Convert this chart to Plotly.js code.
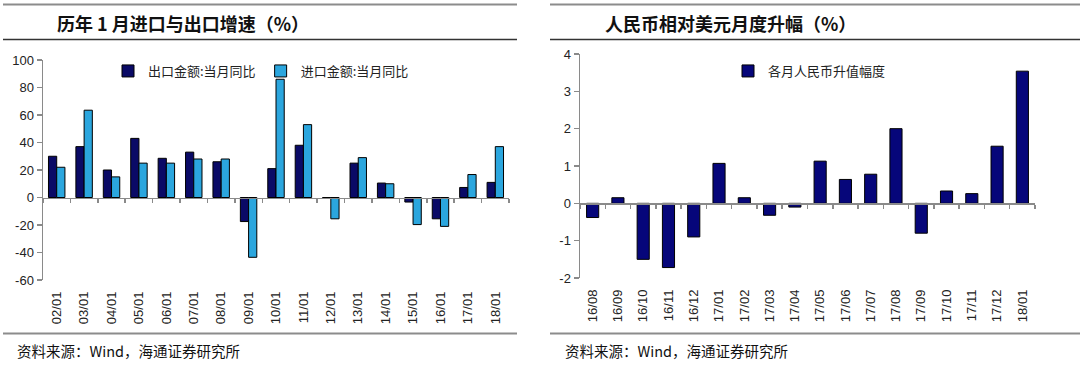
<!DOCTYPE html>
<html><head><meta charset="utf-8">
<script src="https://cdn.plot.ly/plotly-3.0.1.min.js"></script>
<style>html,body{margin:0;padding:0;background:#fff}#chart{width:1080px;height:369px}</style>
</head><body><div id="chart"></div>
<script>
// ---- data ----
const years = ['02/01','03/01','04/01','05/01','06/01','07/01','08/01','09/01','10/01','11/01','12/01','13/01','14/01','15/01','16/01','17/01','18/01'];
const exportYoY = [30, 37, 20, 43, 28.5, 33, 26, -17.5, 21, 38, -0.5, 25, 10.5, -3.3, -15.5, 7.3, 11];
const importYoY = [22, 63.5, 15, 25, 25, 28, 28, -43.5, 86, 53, -15.5, 29, 10, -19.7, -21, 16.7, 37];
const months = ['16/08','16/09','16/10','16/11','16/12','17/01','17/02','17/03','17/04','17/05','17/06','17/07','17/08','17/09','17/10','17/11','17/12','18/01'];
const rmbAppreciation = [-0.38, 0.15, -1.5, -1.72, -0.9, 1.07, 0.15, -0.32, -0.1, 1.13, 0.64, 0.78, 2.0, -0.8, 0.33, 0.26, 1.53, 3.54];
const leftTickVals = [-60, -40, -20, 0, 20, 40, 60, 80, 100];
const leftTickText = ['-60', '-40', '-20', '0', '20', '40', '60', '80', '100'];
const rightTickVals = [-2, -1, 0, 1, 2, 3, 4];
const rightTickText = ['-2', '-1', '0', '1', '2', '3', '4'];
const leftTitle = '历年 1 月进口与出口增速（%）';
const rightTitle = '人民币相对美元月度升幅（%）';
const sourceText = '资料来源：Wind，海通证券研究所';
const exportName = '出口金额:当月同比';
const importName = '进口金额:当月同比';
const rmbName = '各月人民币升值幅度';

// ---- geometry helpers (pixels -> paper) ----
const W = 1080, H = 369;
const px = x => x / W;
const py = y => 1 - y / H;

const leftRange = [-60, 100];
const rightRange = [-2, 4];
const leftYDom = [py(280), py(60)];
const rightYDom = [py(278), py(54)];
const zeroPos = (dom, r) => dom[0] + (0 - r[0]) / (r[1] - r[0]) * (dom[1] - dom[0]);

const CJK = '"Noto Sans CJK SC", "Noto Sans", sans-serif';
const LAT = '"Liberation Sans", Arial, sans-serif';
const axisGray = '#8a8a8a';

const traces = [
  {type:'bar', name:exportName, x:years, y:exportYoY, xaxis:'x', yaxis:'y',
   marker:{color:'#0a0a66', line:{color:'#000', width:1}}, legend:'legend'},
  {type:'bar', name:importName, x:years, y:importYoY, xaxis:'x', yaxis:'y',
   marker:{color:'#2ba6de', line:{color:'#000', width:1}}, legend:'legend'},
  {type:'scatter', mode:'none', x:years, y:exportYoY, xaxis:'x2', yaxis:'y', showlegend:false, hoverinfo:'skip'},
  {type:'bar', name:rmbName, x:months, y:rmbAppreciation, xaxis:'x3', yaxis:'y2', width:0.48,
   marker:{color:'#06067a', line:{color:'#000', width:1}}, legend:'legend2'},
  {type:'scatter', mode:'none', x:months, y:rmbAppreciation, xaxis:'x4', yaxis:'y2', showlegend:false, hoverinfo:'skip'}
];

const labelAxis = (dom, anchor, cats) => ({
  type:'category', domain:dom, anchor:anchor, categoryarray:cats, categoryorder:'array',
  range:[-0.5, cats.length - 0.5], showline:false, ticks:'', showgrid:false, zeroline:false,
  tickangle:-90, ticklabelstandoff:8, tickfont:{family:LAT, size:13, color:'#222'}
});
const zeroAxis = (dom, overlay, yDom, yRange, cats) => ({
  type:'category', domain:dom, overlaying:overlay, matches:overlay, anchor:'free',
  position:zeroPos(yDom, yRange), categoryarray:cats, categoryorder:'array',
  showline:true, linecolor:axisGray, linewidth:1.5, ticks:'outside', tickson:'boundaries',
  ticklen:4, tickcolor:axisGray, tickwidth:1.5, showticklabels:false, showgrid:false, zeroline:false
});
const valueAxis = (dom, anchor, r, vals, texts) => ({
  domain:dom, anchor:anchor, range:r, tickmode:'array', tickvals:vals, ticktext:texts,
  showline:true, linecolor:axisGray, linewidth:1.5,
  ticks:'outside', ticklen:5, tickcolor:axisGray, tickwidth:1.5, showgrid:false, zeroline:false,
  tickfont:{family:LAT, size:13, color:'#222'}
});

const leftXDom = [px(43), px(509)];
const rightXDom = [px(580), px(1035)];

const hline = (x0, x1, y, color, w) => ({type:'line', xref:'paper', yref:'paper', x0:px(x0), x1:px(x1), y0:py(y), y1:py(y), line:{color:color, width:w}});
const txt = (x, y, text, size, bold) => ({xref:'paper', yref:'paper', x:px(x), y:py(y), xanchor:'left', yanchor:'middle', showarrow:false,
  text: bold ? '<b>' + text + '</b>' : text, font:{family:CJK, size:size, color:'#111'}});

const layout = {
  width:W, height:H, margin:{l:0, r:0, t:0, b:0}, paper_bgcolor:'#fff', plot_bgcolor:'rgba(0,0,0,0)',
  barmode:'group', bargap:0.4, bargroupgap:0,
  xaxis: labelAxis(leftXDom, 'y', years),
  xaxis2: zeroAxis(leftXDom, 'x', leftYDom, leftRange, years),
  xaxis3: labelAxis(rightXDom, 'y2', months),
  xaxis4: zeroAxis(rightXDom, 'x3', rightYDom, rightRange, months),
  yaxis: valueAxis(leftYDom, 'x', leftRange, leftTickVals, leftTickText),
  yaxis2: valueAxis(rightYDom, 'x3', rightRange, rightTickVals, rightTickText),
  legend:{orientation:'h', x:px(108), y:py(71), xanchor:'left', yanchor:'middle', bgcolor:'rgba(0,0,0,0)',
    font:{family:CJK, size:13, color:'#222'}, itemwidth:30, traceorder:'normal'},
  legend2:{orientation:'h', x:px(728), y:py(71), xanchor:'left', yanchor:'middle', bgcolor:'rgba(0,0,0,0)',
    font:{family:CJK, size:13, color:'#222'}, itemwidth:30},
  shapes:[
    hline(3, 517, 4.5, '#8c8c8c', 2), hline(3, 517, 39.5, '#333', 1.5), hline(3, 517, 333.5, '#8c8c8c', 2),
    hline(550, 1080, 4.5, '#8c8c8c', 2), hline(550, 1080, 39.5, '#333', 1.5), hline(550, 1080, 333.5, '#8c8c8c', 2)
  ],
  annotations:[
    txt(55, 23, leftTitle, 18, true),
    txt(603, 23, rightTitle, 18, true),
    txt(15, 350, sourceText, 14.5, false),
    txt(563, 350, sourceText, 14.5, false)
  ]
};

Plotly.newPlot('chart', traces, layout, {staticPlot:true, displayModeBar:false});
</script>
</body></html>
